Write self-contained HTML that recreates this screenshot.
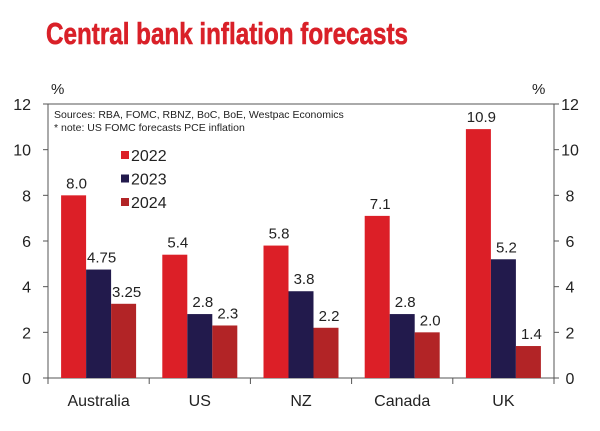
<!DOCTYPE html>
<html><head><meta charset="utf-8"><style>
body{margin:0;background:#fff;width:600px;height:431px;overflow:hidden}
svg{display:block;font-family:"Liberation Sans",sans-serif}
</style></head><body>
<svg id="chart" width="600" height="431">
<text x="46" y="44" font-size="31" font-weight="bold" fill="#d92028" textLength="362" lengthAdjust="spacingAndGlyphs" stroke="#d92028" stroke-width="0.6">Central bank inflation forecasts</text>
<text x="51" y="94" font-size="15" fill="#222">%</text>
<text x="532" y="94" font-size="15" fill="#222">%</text>
<text x="54" y="118" font-size="10.5" fill="#222">Sources: RBA, FOMC, RBNZ, BoC, BoE, Westpac Economics</text>
<text x="54" y="131" font-size="10.5" fill="#222">* note: US FOMC forecasts PCE inflation</text>
<g id="axes"></g><g id="bars"></g><g id="legend"></g>
</svg>
<script>
const categories=["Australia","US","NZ","Canada","UK"];
const years=["2022","2023","2024"];
const s2022=[8.0,5.4,5.8,7.1,10.9];
const s2023=[4.75,2.8,3.8,2.8,5.2];
const s2024=[3.25,2.3,2.2,2.0,1.4];
const labels2022=["8.0","5.4","5.8","7.1","10.9"];
const labels2023=["4.75","2.8","3.8","2.8","5.2"];
const labels2024=["3.25","2.3","2.2","2.0","1.4"];
const ticks=[0,2,4,6,8,10,12];
const NS="http://www.w3.org/2000/svg";
const X0=48,X1=554,Y0=378,Y1=104;
const y=v=>Y0-(v/12)*(Y0-Y1);
const cw=(X1-X0)/categories.length;
const colors=["#dc1f27","#221a4c","#b22426"];
function mk(tag,attrs,parent,text){const e=document.createElementNS(NS,tag);for(const k in attrs)e.setAttribute(k,attrs[k]);if(text!=null)e.textContent=text;parent.appendChild(e);return e;}
const axes=document.getElementById('axes'),bars=document.getElementById('bars'),legend=document.getElementById('legend');
let l=mk('line',{x1:X0,y1:Y1,x2:X1,y2:Y1,stroke:'#555'},axes);


l=mk('line',{x1:X0,y1:Y1,x2:X0,y2:Y0,stroke:'#555'},axes);


l=mk('line',{x1:X1,y1:Y1,x2:X1,y2:Y0,stroke:'#555'},axes);


l=mk('line',{x1:X0,y1:Y0,x2:X1,y2:Y0,stroke:'#555'},axes);


ticks.forEach(t=>{
  const yy=y(t);
  mk('line',{x1:X0-5,y1:yy,x2:X0,y2:yy,stroke:'#555'},axes);
  mk('line',{x1:X1,y1:yy,x2:X1+5,y2:yy,stroke:'#555'},axes);
  let a=mk('text',{x:31,y:yy+6,'font-size':16,'text-anchor':'end',fill:'#222'},axes,t);
  
  
  let b=mk('text',{x:570,y:yy+6,'font-size':16,'text-anchor':'middle',fill:'#222'},axes,t);
  
  
});
for(let i=0;i<=categories.length;i++){mk('line',{x1:X0+i*cw,y1:Y0,x2:X0+i*cw,y2:Y0+6,stroke:'#555'},axes);}
const series=[s2022,s2023,s2024],lbls=[labels2022,labels2023,labels2024];
const bw=25;
categories.forEach((c,i)=>{
  const cx=X0+cw*(i+0.5);
  let t=mk('text',{x:cx,y:406,'font-size':16,'text-anchor':'middle',fill:'#222'},axes,c);
  
  
  series.forEach((s,j)=>{
    const bx=cx-1.5*bw+j*bw;
    const r=mk('rect',{x:bx,y:y(s[i]),width:bw,height:Y0-y(s[i]),fill:colors[j]},bars);
    
    
    const v=mk('text',{x:bx+bw/2+3,y:y(s[i])-7,'font-size':15,'text-anchor':'middle',fill:'#222'},bars,lbls[j][i]);
    
    
  });
});
years.forEach((yr,j)=>{
  const ly=161+j*23.5;
  const r=mk('rect',{x:121,y:ly-10,width:8,height:8,fill:colors[j]},legend);
  
  
  const t=mk('text',{x:131,y:ly,'font-size':16,fill:'#222'},legend,yr);
  
  
});
</script>
</body></html>
